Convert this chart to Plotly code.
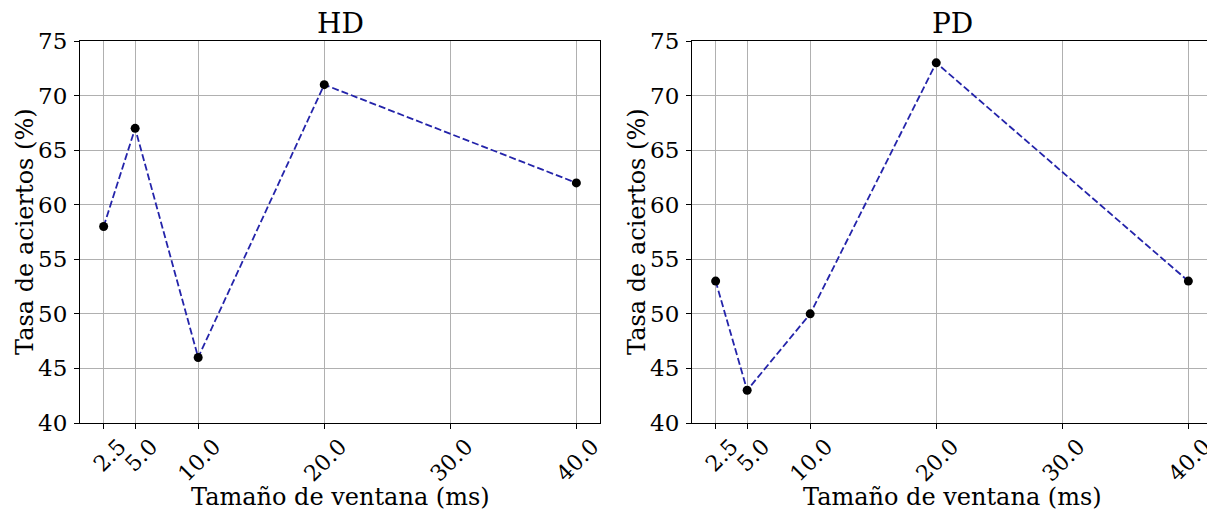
import plotly.graph_objects as go

window_ms = [2.5, 5.0, 10.0, 20.0, 40.0]
hd_rate = [58, 67, 46, 71, 62]
pd_rate = [53, 43, 50, 73, 53]
x_ticks = [2.5, 5.0, 10.0, 20.0, 30.0, 40.0]
y_ticks = [40, 45, 50, 55, 60, 65, 70, 75]
titles = ["HD", "PD"]
x_title = "Tamaño de ventana (ms)"
y_title = "Tasa de aciertos (%)"

# page body has an 8px margin; work in figure pixels = reference pixels - 8
OFF = 8
W, H = 1215 - OFF, 510 - OFF
font = "DejaVu Serif"
line_color = "#2424aa"

fig = go.Figure()
for i, (vals, name) in enumerate([(hd_rate, "HD"), (pd_rate, "PD")]):
    xa = "x" if i == 0 else "x2"
    ya = "y" if i == 0 else "y2"
    fig.add_trace(go.Scatter(
        x=window_ms, y=vals, mode="lines+markers", xaxis=xa, yaxis=ya,
        line=dict(color=line_color, width=1.8, dash="7px,3px"),
        marker=dict(color="black", size=9), showlegend=False, name=name,
    ))

left = [(80 - OFF, 600 - OFF), (692 - OFF, 1212 - OFF)]
top, bottom = 41 - OFF, 423 - OFF
ydom = [(H - bottom) / H, (H - top) / H]

def py(v):
    return (H - v) / H

common_x = dict(
    range=[0.625, 41.875], tickvals=x_ticks, ticktext=[f"{v:.1f}" for v in x_ticks],
    tickangle=-45, ticks="outside", ticklen=5, tickcolor="black",
    showgrid=True, gridcolor="#b0b0b0", gridwidth=0.8,
    showline=True, linecolor="black", linewidth=1, mirror=True, zeroline=False,
    tickfont=dict(family=font, size=22, color="black"),
    ticklabelshift=16, ticklabelstandoff=-4, automargin=False,
    ticklabeloverflow="allow",
)
common_y = dict(
    range=[40, 75], tickvals=y_ticks, ticks="outside", ticklen=5, tickcolor="black",
    showgrid=True, gridcolor="#b0b0b0", gridwidth=0.8,
    showline=True, linecolor="black", linewidth=1, mirror=True, zeroline=False,
    tickfont=dict(family=font, size=23, color="black"),
    ticklabelstandoff=2, automargin=False,
)

fig.update_layout(
    width=W, height=H, margin=dict(l=0, r=0, t=0, b=0),
    plot_bgcolor="white", paper_bgcolor="white",
    xaxis=dict(domain=[left[0][0] / W, left[0][1] / W], anchor="y", **common_x),
    yaxis=dict(domain=ydom, anchor="x", **common_y),
    xaxis2=dict(domain=[left[1][0] / W, left[1][1] / W], anchor="y2", **common_x),
    yaxis2=dict(domain=ydom, anchor="x2", **common_y),
)

for i, t in enumerate(titles):
    cx = (left[i][0] + left[i][1]) / 2 / W
    fig.add_annotation(text=t, xref="paper", yref="paper", x=cx, y=py(24 - OFF),
                       xanchor="center", yanchor="middle", showarrow=False,
                       font=dict(family=font, size=28, color="black"))
    fig.add_annotation(text=x_title, xref="paper", yref="paper", x=cx, y=py(497 - OFF),
                       xanchor="center", yanchor="middle", showarrow=False,
                       font=dict(family=font, size=24, color="black"))
    fig.add_annotation(text=y_title, xref="paper", yref="paper",
                       x=(left[i][0] - 55) / W, y=py((top + bottom) / 2),
                       xanchor="center", yanchor="middle", textangle=-90, showarrow=False,
                       font=dict(family=font, size=24, color="black"))

fig.write_html("out.html")
